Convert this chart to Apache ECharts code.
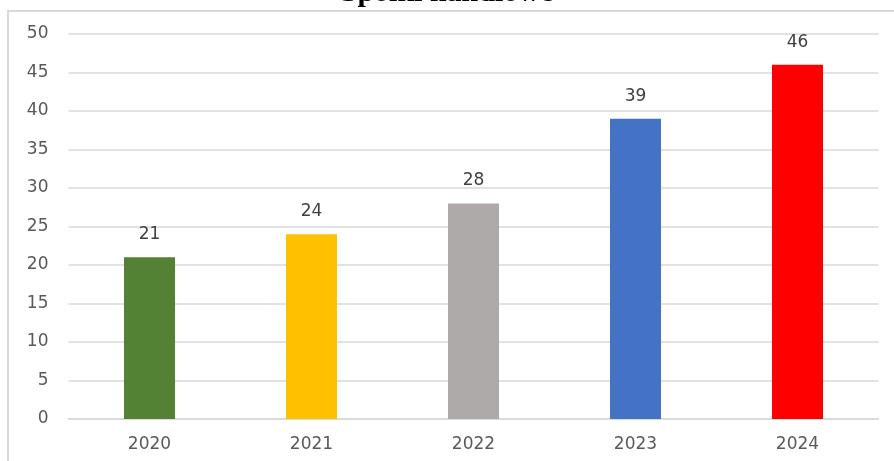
<!DOCTYPE html>
<html>
<head>
<meta charset="utf-8">
<script src="https://cdn.jsdelivr.net/npm/echarts@6/dist/echarts.min.js"></script>
<style>
html,body{margin:0;padding:0;background:#fff;overflow:hidden;}
#wrap{position:relative;width:894px;height:461px;overflow:hidden;}
#ftop{position:absolute;left:7px;top:10px;width:887px;height:2px;background:#d9d9d9;}
#fleft{position:absolute;left:7px;top:10px;width:2px;height:451px;background:#d9d9d9;}
#chart{position:absolute;left:0;top:0;width:894px;height:461px;}
</style>
</head>
<body>
<div id="wrap"><div id="ftop"></div><div id="fleft"></div><div id="chart"></div></div>
<script>
const titleText = 'Spółki handlowe';
const categories = ['2020', '2021', '2022', '2023', '2024'];
const values = [21, 24, 28, 39, 46];
const barColors = ['#548235', '#FFC000', '#AEAAAA', '#4472C4', '#FF0000'];

const chart = echarts.init(document.getElementById('chart'), null, {renderer: 'canvas'});
chart.setOption({
  animation: false,
  backgroundColor: 'transparent',
  title: {
    text: titleText,
    left: 'center',
    top: -22,
    padding: 0,
    textStyle: {fontFamily: 'Liberation Serif', fontWeight: 'bold', fontSize: 30, color: '#000', lineHeight: 30}
  },
  grid: {left: 68.5, right: 15.5, top: 34, bottom: 42, containLabel: false},
  xAxis: {
    type: 'category',
    data: categories,
    axisLine: {show: true, lineStyle: {color: '#d9d9d9', width: 1.5}},
    axisTick: {show: false},
    axisLabel: {fontFamily: 'DejaVu Sans', fontSize: 17, color: '#595959', margin: 17}
  },
  yAxis: {
    type: 'value',
    min: 0, max: 50, interval: 5,
    axisLine: {show: false},
    axisTick: {show: false},
    splitLine: {lineStyle: {color: '#d9d9d9', width: 1.5}},
    axisLabel: {fontFamily: 'DejaVu Sans', fontSize: 17, color: '#595959', margin: 20}
  },
  series: [{
    type: 'bar',
    data: values.map((v, i) => ({value: v, itemStyle: {color: barColors[i]}})),
    barWidth: '31.5%',
    label: {show: true, position: 'top', distance: 14, fontFamily: 'DejaVu Sans', fontSize: 17, color: '#404040'}
  }]
});
</script>
</body>
</html>
